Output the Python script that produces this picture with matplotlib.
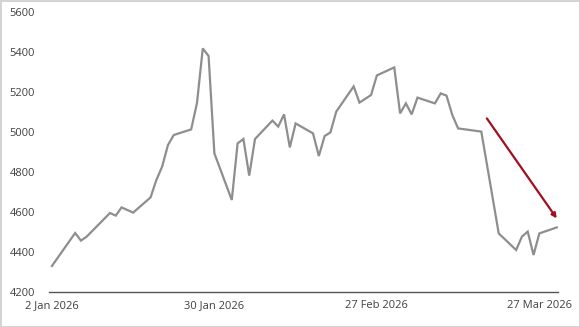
import pandas as pd
import matplotlib
matplotlib.use("Agg")
import matplotlib.pyplot as plt
import matplotlib.dates as mdates

# price series (turning points)
dates = ["2026-01-02", "2026-01-06", "2026-01-07", "2026-01-08", "2026-01-12",
         "2026-01-13", "2026-01-14", "2026-01-16", "2026-01-19", "2026-01-20",
         "2026-01-21", "2026-01-22", "2026-01-23", "2026-01-26", "2026-01-27",
         "2026-01-28", "2026-01-29", "2026-01-30", "2026-02-02", "2026-02-03",
         "2026-02-04", "2026-02-05", "2026-02-06", "2026-02-09", "2026-02-10",
         "2026-02-11", "2026-02-12", "2026-02-13", "2026-02-16", "2026-02-17",
         "2026-02-18", "2026-02-19", "2026-02-20", "2026-02-23", "2026-02-24",
         "2026-02-26", "2026-02-27", "2026-03-02", "2026-03-03", "2026-03-04",
         "2026-03-05", "2026-03-06", "2026-03-09", "2026-03-10", "2026-03-11",
         "2026-03-12", "2026-03-13", "2026-03-17", "2026-03-20", "2026-03-23",
         "2026-03-24", "2026-03-25", "2026-03-26", "2026-03-27", "2026-03-30"]
values = [4330, 4495, 4457, 4477, 4595,
          4582, 4623, 4597, 4673, 4760,
          4827, 4935, 4985, 5013, 5145,
          5418, 5380, 4893, 4660, 4943,
          4965, 4782, 4965, 5057, 5027,
          5088, 4923, 5043, 4993, 4880,
          4980, 4998, 5102, 5228, 5147,
          5185, 5283, 5323, 5093, 5143,
          5088, 5172, 5143, 5193, 5182,
          5085, 5018, 5002, 4493, 4410,
          4477, 4502, 4385, 4493, 4523]

tick_dates = ["2026-01-02", "2026-01-30", "2026-02-27", "2026-03-27"]
tick_labels = ["2 Jan 2026", "30 Jan 2026", "27 Feb 2026", "27 Mar 2026"]
y_ticks = [4200, 4400, 4600, 4800, 5000, 5200, 5400, 5600]

# trend arrow
arrow_start = ("2026-03-17 23:00", 5068)
arrow_end = ("2026-03-30", 4568)

plt.rcParams['font.family'] = ['Open Sans', 'DejaVu Sans']

x = pd.to_datetime(dates)

fig = plt.figure(figsize=(5.8, 3.27), dpi=100)
fig.patch.set_edgecolor("#d4d4d4")
fig.patch.set_linewidth(2)
ax = fig.add_axes([0.0845, 0.107, 0.8775, 0.8563])

ax.plot(x, values, color="#8e8e8e", lw=1.6, solid_joinstyle="miter")

ax.annotate("", xy=(pd.Timestamp(arrow_end[0]), arrow_end[1]),
            xytext=(pd.Timestamp(arrow_start[0]), arrow_start[1]),
            arrowprops=dict(arrowstyle="-|>", color="#a0101e", lw=1.6,
                            mutation_scale=7, shrinkA=0, shrinkB=0))

ax.set_xlim(pd.Timestamp("2026-01-01 12:00"), pd.Timestamp("2026-03-30 05:00"))
ax.set_ylim(4200, 5600)
ax.set_yticks(y_ticks)
ax.set_xticks(pd.to_datetime(tick_dates))
ax.set_xticklabels(tick_labels)

for s in ["top", "right", "left"]:
    ax.spines[s].set_visible(False)
ax.spines["bottom"].set_color("#555555")
ax.spines["bottom"].set_linewidth(1.0)
ax.tick_params(axis="both", length=0, labelsize=8, colors="#404040")
ax.tick_params(axis="y", pad=10)
ax.tick_params(axis="x", pad=6)

fig.savefig("out.png", dpi=100)
